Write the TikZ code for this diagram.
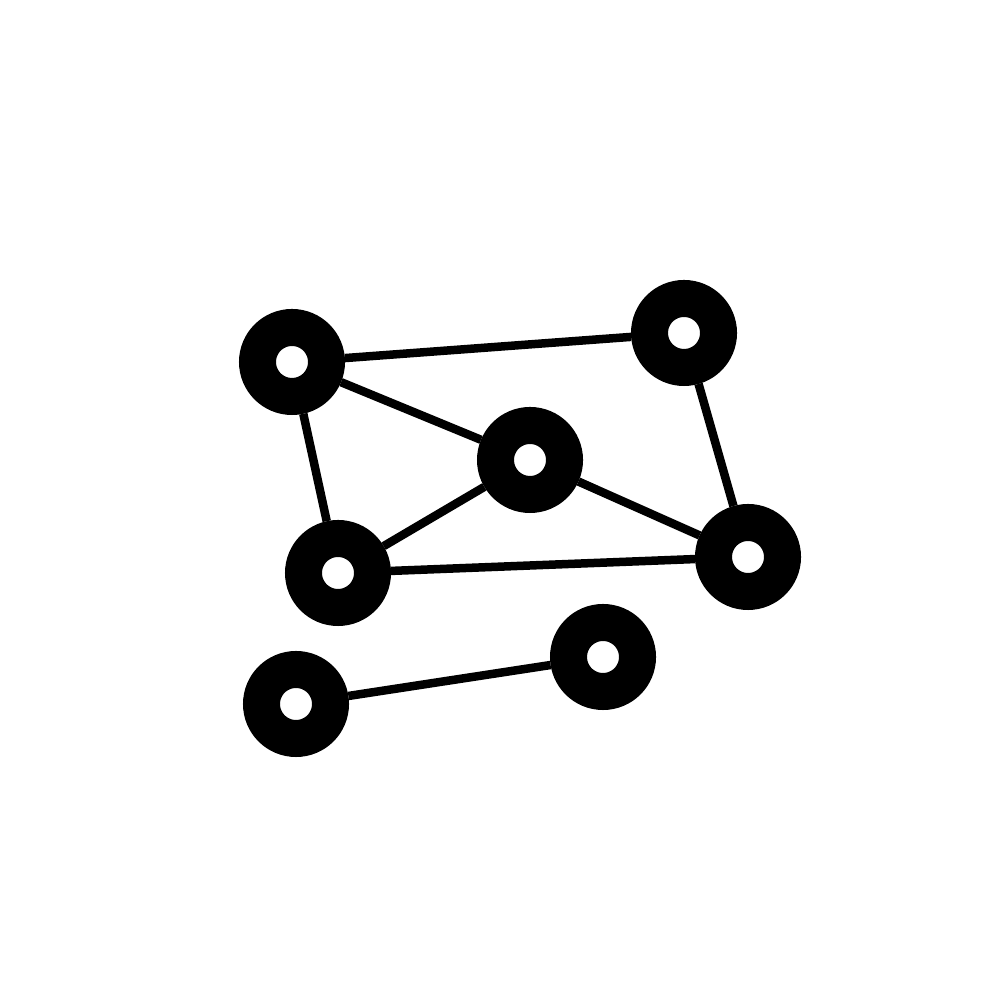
\documentclass[tikz,border=0pt]{standalone}
\usepackage{tikz}
\usetikzlibrary{positioning,calc}

\tikzset{
  hub/.style={draw=black, circle, fill=white, line width=0.37cm, minimum size=0.69cm, inner sep=0pt},
  link/.style={line width=0.085cm, black}
}

\begin{document}
\begin{tikzpicture}

\useasboundingbox (0,0) rectangle (10,10);

% Main cluster nodes
\node[hub] (n1) at (2.92,6.38) {};
\node[hub] (n2) at (6.84,6.67) {};
\node[hub] (n3) at (5.30,5.40) {};
\node[hub] (n4) at (3.38,4.27) {};
\node[hub] (n5) at (7.48,4.43) {};

% Separate pair
\node[hub] (n6) at (2.96,2.96) {};
\node[hub] (n7) at (6.03,3.43) {};

% Connections
\foreach \from/\to in {n1/n2, n1/n3, n1/n4, n2/n5, n3/n4, n3/n5, n4/n5, n6/n7}
    \draw[link] (\from) -- (\to);

\end{tikzpicture}
\end{document}
